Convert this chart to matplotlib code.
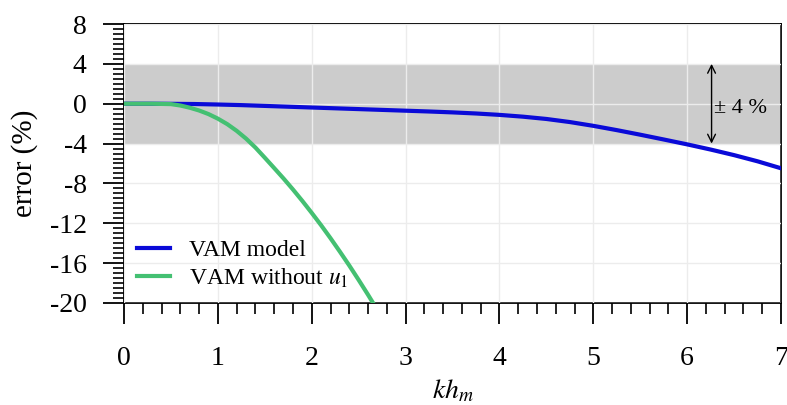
import matplotlib
matplotlib.use("Agg")
import matplotlib.pyplot as plt
from matplotlib.ticker import MultipleLocator

plt.rcParams['font.family'] = ['Liberation Serif', 'DejaVu Serif']
plt.rcParams['mathtext.fontset'] = 'stix'

# error (%) of the VAM model against kh_m
kh_vam = [0.0, 0.25, 0.5, 0.75, 1.0, 1.25, 1.5, 1.75, 2.0, 2.5, 3.0, 3.25, 3.5, 3.75,
          4.0, 4.25, 4.5, 4.75, 5.0, 5.25, 5.5, 5.75, 6.0, 6.25, 6.5, 6.75, 7.0]
err_vam = [0.0, 0.0, -0.01, -0.03, -0.08, -0.14, -0.22, -0.3, -0.38, -0.54, -0.7, -0.78, -0.87, -0.98,
           -1.12, -1.3, -1.53, -1.84, -2.22, -2.65, -3.11, -3.59, -4.08, -4.6, -5.16, -5.78, -6.48]

# error (%) of the VAM without the u1 term
kh_nou1 = [0.0, 0.3, 0.5, 0.6, 0.7, 0.8, 0.9, 1.0, 1.1, 1.2, 1.3, 1.4, 1.5, 1.6, 1.7,
           1.8, 1.9, 2.0, 2.1, 2.2, 2.3, 2.4, 2.5, 2.6, 2.7]
err_nou1 = [0.0, 0.0, -0.04, -0.18, -0.4, -0.68, -1.04, -1.5, -2.05, -2.72, -3.5, -4.4, -5.42,
            -6.46, -7.51, -8.61, -9.76, -10.96, -12.2, -13.5, -14.85, -16.24, -17.69, -19.18, -20.72]

band = 4.0  # tolerance band, +/- %

fig = plt.figure(figsize=(7.87, 4.05), dpi=100)
ax = fig.add_axes([0.1576, 0.2519, 0.8348, 0.6888])

ax.axhspan(-band, band, color='#cccccc', zorder=0, lw=0)
ax.grid(True, which='major', color='#ececec', lw=1.0, zorder=1)
ax.set_axisbelow(False)

ax.plot(kh_vam, err_vam, color='#0a0ad8', lw=3.0, label='VAM model', zorder=3,
        solid_joinstyle='round')
ax.plot(kh_nou1, err_nou1, color='#44c072', lw=3.0, label='VAM without $u_1$', zorder=3,
        solid_joinstyle='round')

ax.annotate('', xy=(6.26, -band), xytext=(6.26, band),
            arrowprops=dict(arrowstyle='<->', color='black', lw=1.0,
                            shrinkA=0, shrinkB=0, mutation_scale=14), zorder=4)
ax.text(6.29, -0.5, '± 4 %', fontsize=16, va='center', ha='left', zorder=4)

ax.set_xlim(0, 7)
ax.set_ylim(-20, 8)
ax.xaxis.set_major_locator(MultipleLocator(1))
ax.xaxis.set_minor_locator(MultipleLocator(0.2))
ax.yaxis.set_major_locator(MultipleLocator(4))
ax.yaxis.set_minor_locator(MultipleLocator(0.5))

ax.tick_params(axis='both', which='major', direction='out', length=15, width=1.3,
               labelsize=20, color='black')
ax.tick_params(axis='both', which='minor', direction='out', length=8, width=1.2, color='black')
ax.tick_params(axis='x', which='major', pad=16)
ax.tick_params(axis='y', which='major', pad=12)
for s in ax.spines.values():
    s.set_linewidth(1.3)

ax.set_yticklabels([f'{int(v)}' for v in ax.get_yticks()])
ax.set_xlabel('$kh_m$', fontsize=20, labelpad=5)
ax.set_ylabel('error (%)', fontsize=21, labelpad=8)

ax.legend(loc='lower left', frameon=False, fontsize=17, handlelength=1.4,
          handletextpad=0.8, labelspacing=0.25, borderaxespad=0.15)

fig.savefig('out.png', dpi=100)
